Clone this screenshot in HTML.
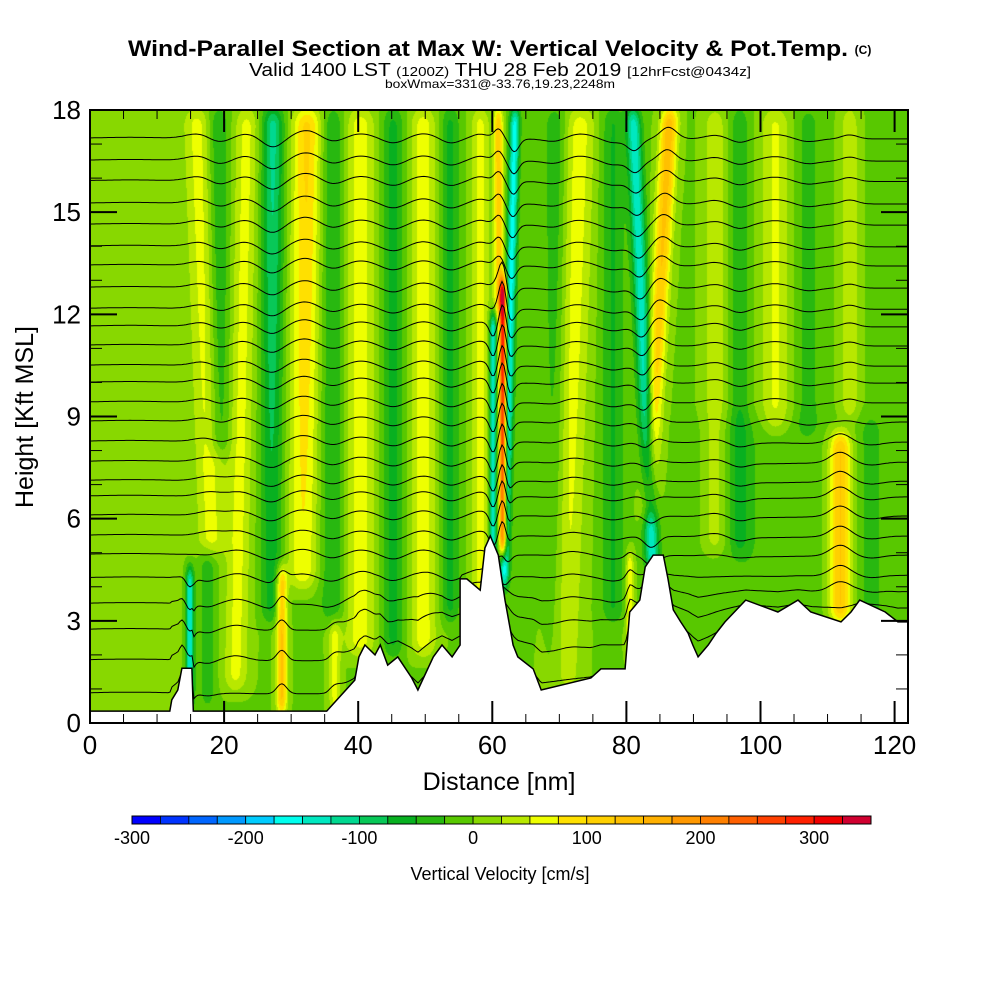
<!DOCTYPE html>
<html><head><meta charset="utf-8"><style>
html,body{margin:0;padding:0;background:#fff;}
#wrap{position:relative;width:1000px;height:1000px;overflow:hidden;}
canvas{position:absolute;left:90px;top:110px;}
svg{position:absolute;left:0;top:0;}
text{font-family:"Liberation Sans",sans-serif;}
</style></head><body>
<div id="wrap">
<canvas id="field" width="818" height="613"></canvas>
<svg id="ov" width="1000" height="1000">
<g id="contours"></g>
<path id="terrain" fill="#fff" stroke="#000" stroke-width="1.5"></path>
<rect x="90" y="110" width="818" height="613" fill="none" stroke="#000" stroke-width="2"></rect>
<g id="ticks"></g>
<g id="labels"></g>
<text x="488" y="56" text-anchor="middle" font-size="22" font-weight="bold" textLength="720" lengthAdjust="spacingAndGlyphs">Wind-Parallel Section at Max W: Vertical Velocity &amp; Pot.Temp.</text>
<text x="863" y="54" text-anchor="middle" font-size="12" font-weight="bold">(C)</text>
<text x="500" y="76" text-anchor="middle" font-size="18" textLength="502" lengthAdjust="spacingAndGlyphs">Valid 1400 LST <tspan font-size="13">(1200Z)</tspan> THU 28 Feb 2019 <tspan font-size="13">[12hrFcst@0434z]</tspan></text>
<text x="500" y="88" text-anchor="middle" font-size="12" textLength="230" lengthAdjust="spacingAndGlyphs">boxWmax=331@-33.76,19.23,2248m</text>
<text x="499" y="790" text-anchor="middle" font-size="25">Distance [nm]</text>
<text transform="translate(33,417) rotate(-90)" text-anchor="middle" font-size="25">Height [Kft MSL]</text>
<g id="cbar"></g>
<text x="500" y="880" text-anchor="middle" font-size="18">Vertical Velocity [cm/s]</text>
</svg>
</div>
<script>
// palette levels (-300..350 step 25)
const levelColors = ["#0000ff","#0033ff","#0066ff","#0099ff","#00ccff","#00ffee","#00e8c0","#00d890","#08c858","#08b020","#28b810","#58c800","#88d800","#b8e800","#eeff00","#ffe000","#ffd000","#ffc000","#ffb000","#ff9800","#ff8000","#ff6000","#ff4000","#ff2000","#f00000","#d00030"];
const cbarTicks = [-300,-200,-100,0,100,200,300];
const xTicks = [0,20,40,60,80,100,120];
const yTicks = [0,3,6,9,12,15,18];
// terrain (nm, kft)
const terrNm = [0,11.9,12.2,13.1,13.7,15.2,15.4,35.3,39.5,40.1,41.0,42.5,43.3,44.4,45.9,48.0,48.9,51.2,52.5,54.0,55.2,55.2,56.2,58.2,58.9,59.7,60.9,61.9,63.1,63.8,66.1,67.3,74.7,76.2,79.8,80.5,82.0,82.8,84.0,85.5,86.2,87.0,88.1,89.2,89.9,90.7,92.2,93.4,94.7,97.8,102.6,105.6,107.5,112.0,113.5,114.8,118.6,120.5,122];
const terrKft = [0.35,0.35,0.68,0.97,1.61,1.61,0.35,0.35,1.26,1.94,2.29,2.0,2.29,1.70,1.94,1.32,0.97,1.94,2.29,1.94,2.29,4.23,4.23,3.90,5.14,5.49,4.93,3.61,2.29,1.94,1.59,0.97,1.32,1.59,1.59,3.26,3.61,4.58,4.93,4.93,4.23,3.32,2.97,2.64,2.29,1.94,2.29,2.64,2.97,3.61,3.26,3.61,3.26,2.97,3.26,3.61,3.26,2.97,2.97];
// vertical-velocity bands: centre at 0 kft & 18 kft (nm), amplitude bottom/top (cm/s), half-width (nm), height range (kft)
const bandX0 = [19.0,14.9,19.5,21.6,27.0,31.5,28.6,36.2,40.3,36.5,45.2,49.7,53.7,58.2,60.1,61.6,61.3,61.3,69.5,70.1,78.0,84.9,81.6,80.5,102.2,107.1,113.3,111.9,93.2,96.9,116.5,100,6,17.5];
const bandX1 = [16.0,14.9,19.1,23.4,27.3,32.4,28.6,36.2,40.3,36.5,45.2,49.7,53.7,58.2,60.1,61.6,60.9,63.4,69.5,73.1,78.0,81.0,86.5,80.5,102.2,107.1,113.3,111.9,93.2,96.9,116.5,100,6,17.5];
const bandA0 = [60,-150,-50,60,-45,60,130,-50,65,60,-55,65,-55,60,-150,320,120,-160,-45,65,-50,-140,60,80,55,-35,50,130,45,-45,-35,-20,20,-40];
const bandA1 = [60,-150,-50,60,-110,110,130,-50,65,60,-55,65,-55,60,-150,320,120,-160,-45,65,-50,-140,150,80,55,-35,50,130,45,-45,-35,-20,20,-40];
const bandW = [2.0,0.6,1.6,1.8,1.6,2.2,0.8,1.8,2.3,0.9,1.7,2.0,1.4,1.4,0.55,0.55,0.7,0.75,1.7,2.4,1.7,1.1,1.3,0.6,2.2,1.7,1.3,1.6,1.7,1.4,1.8,8,7,1.2];
const bandZlo = [5,0.5,8,1,3,4,0.3,3,2,0.3,2,2,3,3,4.8,5,12,4,1,1,3,4.5,6,2,8.5,8.5,9,3,5,5,3,0,0,0.5];
const bandZhi = [18,4.5,18,18,18,18,4.5,18,18,3,18,18,18,18,12,13,18,18,18,18,18,18,18,5,18,18,18,8.5,18,18,9,9,18,5];
// potential temperature contour base heights (kft)
const thetaKft = [17.15,16.5,15.9,15.24,14.62,13.98,13.42,12.77,12.15,11.63,11.07,10.48,9.98,9.4,8.84,8.25,7.66,7.1,6.64,6.08,5.49,4.93,4.23,3.44,2.64,1.7,0.68];
const baseW = -2;

const L=90,T=110,W=818,H=613,XMAX=122,ZMAX=18;
const xs = nm => L + nm*W/XMAX;
const ys = k => T + H - k*H/ZMAX;
function ss(a,b,x){let t=Math.min(1,Math.max(0,(x-a)/(b-a)));return t*t*(3-2*t);}
function terr(nm){
  for(let i=1;i<terrNm.length;i++){ if(nm<=terrNm[i]){const a=terrNm[i-1],b=terrNm[i]; if(b===a) return terrKft[i]; const t=(nm-a)/(b-a); return terrKft[i-1]+t*(terrKft[i]-terrKft[i-1]);}}
  return terrKft[terrKft.length-1];
}
function wAt(nm,z,widen){
  let v=0;
  for(let i=0;i<bandX0.length;i++){
    const tp=ss(bandZlo[i]-0.5,bandZlo[i]+0.5,z)*(1-ss(bandZhi[i]-0.5,bandZhi[i]+0.5,z));
    if(tp<=0) continue;
    const f=z/ZMAX;
    const xc=bandX0[i]+(bandX1[i]-bandX0[i])*f;
    const a=bandA0[i]+(bandA1[i]-bandA0[i])*f;
    const d=(nm-xc)/(bandW[i]*widen);
    v+=a*Math.exp(-d*d)*tp;
  }
  return v;
}
const ctx=document.getElementById('field').getContext('2d');
const img=ctx.createImageData(W,H);
const rgb=levelColors.map(c=>[parseInt(c.substr(1,2),16),parseInt(c.substr(3,2),16),parseInt(c.substr(5,2),16)]);
for(let px=0;px<W;px++){
  const nm=(px+0.5)*XMAX/W;
  for(let py=0;py<H;py++){
    const z=(H-py-0.5)*ZMAX/H;
    const v=baseW+wAt(nm,z,1);
    let k=Math.floor((v+300)/25); k=Math.max(0,Math.min(25,k));
    const o=(py*W+px)*4;
    img.data[o]=rgb[k][0];img.data[o+1]=rgb[k][1];img.data[o+2]=rgb[k][2];img.data[o+3]=255;
  }
}
ctx.putImageData(img,0,0);
const NS="http://www.w3.org/2000/svg";
function mk(tag,attrs,parent){const e=document.createElementNS(NS,tag);for(const k in attrs)e.setAttribute(k,attrs[k]);parent.appendChild(e);return e;}
const cg=document.getElementById('contours');
thetaKft.forEach((h,i)=>{
  let d="";
  for(let px=0;px<=W;px+=2){
    const nm=px*XMAX/W;
    const tr=terr(nm);
    let z=h+0.08*wAt(nm,h,1.3)/34.06+tr*Math.max(0,(4.5-h)/4.5)*0.6;
    z=Math.min(ZMAX,Math.max(0,z));
    d+=(px===0?"M":"L")+(L+px).toFixed(1)+","+ys(z).toFixed(1);
  }
  const p=mk('path',{d:d,fill:"none",stroke:"#000","stroke-width":"1"},cg);
  
  
});
let td="M"+xs(0)+","+ys(0);
for(let i=0;i<terrNm.length;i++) td+="L"+xs(terrNm[i]).toFixed(1)+","+ys(terrKft[i]).toFixed(1);
td+="L"+xs(XMAX)+","+ys(0)+"Z";
document.getElementById('terrain').setAttribute('d',td);
const tg=document.getElementById('ticks'), lg=document.getElementById('labels');
for(let n=0;n<=120;n+=5){
  const x=xs(n), len=(n%20===0)?22:9;
  mk('line',{x1:x,y1:723,x2:x,y2:723-len,stroke:"#000","stroke-width":n%20===0?2:1},tg);
  mk('line',{x1:x,y1:110,x2:x,y2:110+len,stroke:"#000","stroke-width":n%20===0?2:1},tg);
}
for(let k=0;k<=18;k++){
  const y=ys(k), len=(k%3===0)?27:12;
  mk('line',{x1:90,y1:y,x2:90+len,y2:y,stroke:"#000","stroke-width":k%3===0?2:1},tg);
  mk('line',{x1:908,y1:y,x2:908-len,y2:y,stroke:"#000","stroke-width":k%3===0?2:1},tg);
}
xTicks.forEach(n=>{const t=mk('text',{x:xs(n),y:754,"text-anchor":"middle","font-size":"26"},lg);t.textContent=n;
  });
yTicks.forEach(k=>{const t=mk('text',{x:81,y:ys(k)+9,"text-anchor":"end","font-size":"26"},lg);t.textContent=k;
  });
const cb=document.getElementById('cbar');
const cw=(871-132)/levelColors.length;
levelColors.forEach((c,i)=>{const r=mk('rect',{x:132+i*cw,y:816,width:cw,height:8,fill:c,stroke:"#000","stroke-width":"0.8"},cb);
  });
mk('rect',{x:132,y:816,width:871-132,height:8,fill:"none",stroke:"#000","stroke-width":"1"},cb);
cbarTicks.forEach(v=>{const t=mk('text',{x:132+(v+300)/25*cw,y:844,"text-anchor":"middle","font-size":"18"},cb);t.textContent=v;
  });
</script>
</body></html>
